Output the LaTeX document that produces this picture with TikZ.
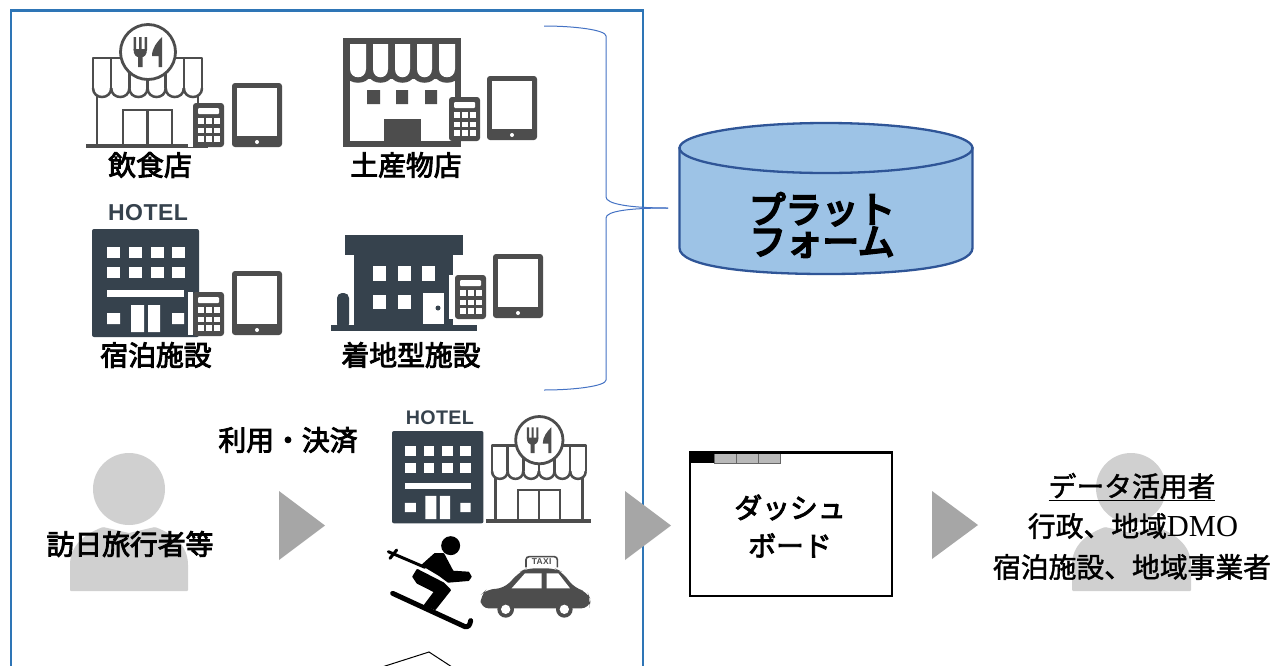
\documentclass[tikz,border=0pt]{standalone}
\usepackage{fontspec}
\setmainfont{Noto Sans CJK JP}
\newfontfamily\hotelfont{Liberation Sans}
\newfontfamily\serifl{Liberation Serif}
\newfontfamily\medfont[FakeBold=3.2]{Noto Sans CJK JP}
\newfontfamily\lightfont[FakeBold=1.6]{Noto Sans CJK JP}
\newfontfamily\heavyfont[FakeBold=6]{Noto Sans CJK JP}
\definecolor{icongray}{HTML}{4D4D4D}
\definecolor{slate}{HTML}{36424D}
\definecolor{frameblue}{HTML}{2E75B6}
\definecolor{bracecol}{HTML}{4472C4}
\definecolor{cylfill}{HTML}{9DC3E6}
\definecolor{cylline}{HTML}{2F5597}
\definecolor{persongray}{HTML}{D0D0D0}
\definecolor{triangray}{HTML}{A6A6A6}
\tikzset{
 lbl/.style={inner sep=0pt,font=\medfont\fontsize{27.8}{33}\selectfont,text=black,align=center},
 lblthin/.style={inner sep=0pt,font=\lightfont\fontsize{27.8}{33}\selectfont,text=black,align=center},
 bigl/.style={inner sep=0pt,font=\heavyfont\fontsize{36.5}{32}\selectfont,text=black,align=center},
 tri/.style={fill=triangray,draw=none},
 person/.style={fill=persongray,draw=none},
 hotlbl/.style={inner sep=0pt,transform shape,font=\hotelfont\fontsize{23}{23}\selectfont\bfseries\addfontfeatures{LetterSpace=2},text=slate}
}
\newcommand{\calcicon}[2]{\begin{scope}[shift={(#1,#2)}]
 \fill[icongray,rounded corners=3pt] (0,0) rectangle (31,44);
 \fill[white,rounded corners=1pt] (5,5) rectangle (26,11);
 \foreach \a in {15,24.5,33} \foreach \b in {5,13,21} \fill[white] (\b,\a) rectangle (\b+5.5,\a+5.5);
\end{scope}}
\newcommand{\tableticon}[2]{\begin{scope}[shift={(#1,#2)}]
 \fill[icongray,rounded corners=3pt] (0,0) rectangle (50,64);
 \fill[white] (5,5) rectangle (45,53);
 \fill[white] (25,59) circle[radius=2pt];
\end{scope}}
\newcommand{\restaurant}[3]{\begin{scope}[shift={(#1,#2)},scale=#3,draw=icongray,line width=2.5pt]
 \fill[icongray] (0,-2) rectangle (122,2);
 \draw (11,-50) -- (11,0) (112,-50) -- (112,0);
 \draw (37,0) -- (37,-36) -- (86,-36) -- (86,0) (61.5,-36) -- (61.5,0);
 \draw[line join=round] (7,-58) -- (7,-88) -- (116,-88) -- (116,-58);
 \foreach \k in {0,1,2,3,4,5} {
  \draw (7+18.17*\k,-58) .. controls (7+18.17*\k,-46) and (25.17+18.17*\k,-46) .. (25.17+18.17*\k,-58);
  \draw (7+18.17*\k,-58) -- (7+18.17*\k,-88);
 }
 \fill[white] (62,-94) circle[radius=27.5pt];
 \draw[line width=2.8pt] (62,-94) circle[radius=27.5pt];
 \fill[icongray] (47.5,-109) rectangle (50,-96) (53,-109) rectangle (55.5,-96) (58.5,-109) rectangle (61,-96);
 \fill[icongray] (47.5,-97) -- (61,-97) .. controls (61,-91) and (58,-89) .. (56.5,-89) -- (56.5,-79) -- (52,-79) -- (52,-89) .. controls (50.5,-89) and (47.5,-91) .. (47.5,-97) -- cycle;
 \fill[icongray] (76,-109) -- (76,-79) -- (72.5,-79) -- (72.5,-90) -- (66,-90) .. controls (66,-98) and (71,-104) .. (76,-109) -- cycle;
\end{scope}}
\newcommand{\hotelicon}[3]{\begin{scope}[shift={(#1,#2)},scale=#3]
 \fill[slate,rounded corners=2pt] (0,0) -- (0,108) -- (107,108) -- (107,0) -- cycle;
 \foreach \b in {15,37,59,80} \foreach \a in {18,38} \fill[white] (\b,\a) rectangle (\b+12.5,\a+11);
 \fill[white] (15,61) rectangle (92,68);
 \fill[white] (15,84) rectangle (28,95) (80,84) rectangle (92,95);
 \fill[white] (39,76) rectangle (52,103) (56,76) rectangle (68,103);
 \node[hotlbl] (#1hotel) at (56,-16) {HOTEL};
\end{scope}}
\begin{document}
\begin{tikzpicture}[x=1pt,y=-1pt]
\useasboundingbox (0,0) rectangle (1274,665);
\clip (0,0) rectangle (1274,665);
\fill[white] (0,0) rectangle (1274,665);
% persons (behind texts)
\fill[person] (129,489) circle[radius=36pt];
\fill[person,rounded corners=1pt] (70,591) -- (70,566) .. controls (70,545) and (85,534) .. (103,527) -- (129,533) -- (155,527) .. controls (173,534) and (188,545) .. (188,566) -- (188,591) -- cycle;
\fill[person] (1131,488) circle[radius=35pt];
\fill[person,rounded corners=1pt] (1072,591) -- (1072,566) .. controls (1072,545) and (1087,534) .. (1105,527) -- (1131,533) -- (1157,527) .. controls (1175,534) and (1191,545) .. (1191,566) -- (1191,591) -- cycle;
% frame
\draw[frameblue,line width=2.2pt] (11,668) -- (11,10.5) -- (643,10.5) -- (643,668);
% icons row 1
\restaurant{86}{146}{1}
\fill[white] (188,103) rectangle (193,147);
\calcicon{193}{103}
\tableticon{232}{83}
% shop
\begin{scope}[shift={(343,38)}]
 \fill[icongray] (0,0) rectangle (118,109);
 \fill[white] (7,41) rectangle (112,103);
 \foreach \p/\q in {7/23,30/45,52/67,74/89,96/112} {
  \fill[icongray] (\p-4,30) -- (\q+4,30) -- (\q+4,38) .. controls (\q+1,47) and (\p-1,47) .. (\p-4,38) -- cycle;
  \fill[white] (\p,6) -- (\q,6) -- (\q,31) .. controls (\q,42) and (\p,42) .. (\p,31) -- cycle;
 }
 \fill[icongray] (24,52) rectangle (37,66) (53,52) rectangle (65,66) (82,52) rectangle (94,66);
 \fill[icongray] (41,81) rectangle (78,109);
\end{scope}
\calcicon{449}{97}
\tableticon{487}{76}
% hotel
\hotelicon{92}{229}{1}
\fill[white] (188,292) rectangle (193,335);
\calcicon{193}{292}
\tableticon{232}{271}
% house
\fill[slate] (345,235) rectangle (463,255);
\fill[slate] (354,255) rectangle (453,326);
\fill[slate] (331,325) rectangle (477,331);
\fill[slate,rounded corners=5pt] (337,329) -- (337,293) -- (349,293) -- (349,329) -- cycle;
\foreach \b in {373,398,422} \fill[white] (\b,266) rectangle (\b+13,281);
\foreach \b in {373,398} \fill[white] (\b,295) rectangle (\b+13,309);
\fill[white] (423,293) rectangle (444,324);
\fill[slate] (438,308) circle[radius=2.5pt];
\fill[white] (449,275) rectangle (455,319);
\calcicon{455}{275}
\tableticon{493}{254}
% lower icons
\hotelicon{392}{431}{.855}
\restaurant{486}{521}{.86}
% skier
\begin{scope}[shift={(380,530)},scale=.3333]
 \fill[black] (212,47) circle[radius=28.5pt];
 \draw[black,line width=3pt,line cap=round] (25,65) -- (135,112) (30,85) -- (50,60);
 \draw[black,line width=5pt,line cap=round,line join=round] (38,190) -- (255,290) .. controls (265,292) and (270,285) .. (272,272);
 \fill[black,draw=black,line width=2pt,line join=round] (128,105) -- (165,72) -- (190,72) -- (218,125) -- (265,128) -- (272,140) -- (265,150) -- (205,155) -- (178,135) -- cycle;
 \fill[black,draw=black,line width=2pt,line join=round] (100,140) -- (112,120) -- (190,160) -- (210,180) -- (165,237) -- (135,225) -- (165,185) -- (112,158) -- cycle;
\end{scope}
% taxi
\begin{scope}[shift={(480,540)},scale=.3333]
 \fill[icongray,rounded corners=8pt] (2,205) -- (2,165) -- (20,148) -- (72,145) -- (120,95) -- (140,85) -- (225,85) -- (245,95) -- (285,145) -- (322,155) -- (332,180) -- (328,205) -- cycle;
 \fill[white] (95,145) -- (135,100) -- (185,100) -- (185,145) -- cycle;
 \fill[white] (200,100) -- (235,100) -- (270,145) -- (200,145) -- cycle;
 \fill[icongray] (77,208) circle[radius=25pt] (253,208) circle[radius=25pt];
 \fill[white] (77,208) circle[radius=14pt] (253,208) circle[radius=14pt];
 \draw[icongray,line width=1.6pt,rounded corners=3pt] (138,82) -- (138,50) -- (232,50) -- (232,82);
 \node[inner sep=0pt,text=icongray,font=\hotelfont\fontsize{8.5}{9}\selectfont\bfseries\addfontfeatures{LetterSpace=4}] (taxisign) at (185,66) {TAXI};
\end{scope}
% partial shape at the bottom
\draw[black,line width=1pt] (382,667) -- (429,652) -- (452,667);
% brace
\coordinate (bracetip) at (668,208);
\draw[bracecol,line width=1pt] (544,26) .. controls (575,26) and (606,30) .. (606,36) -- (606,197) .. controls (606,204) and (630,208) .. (bracetip);
\draw[bracecol,line width=1pt] (bracetip) .. controls (630,208) and (606,211) .. (606,218) -- (606,380) .. controls (606,386) and (575,390) .. (544,390);
% cylinder
\draw[cylline,fill=cylfill,line width=2.3pt] (679.5,148) -- (679.5,248) .. controls (679.5,266) and (745,274) .. (826,274) .. controls (907,274) and (972.5,266) .. (972.5,248) -- (972.5,148) -- cycle;
\draw[cylline,fill=cylfill,line width=2.3pt] (826,148) ellipse[x radius=146.5pt,y radius=25pt];
% triangles
\fill[tri] (279,491) -- (325,525.5) -- (279,560) -- cycle;
\fill[tri] (625,491) -- (671,525.5) -- (625,560) -- cycle;
\fill[tri] (932,491) -- (978,525) -- (932,559) -- cycle;
% dashboard
\draw[black,line width=2.4pt] (690,452.5) rectangle (892,596);
\fill[black] (690,452) rectangle (714,463);
\draw[fill=gray!55,draw=gray!80!black,line width=.8pt] (714,452.5) rectangle (736,463) (736,452.5) rectangle (758,463) (758,452.5) rectangle (780,463);
\draw[black,line width=2.4pt] (690,452.5) -- (892,452.5);
% labels
\node[lbl] (t1) at (150,165) {飲食店};
\node[lbl] (t2) at (406,165) {土産物店};
\node[lbl] (t3) at (156,355) {宿泊施設};
\node[lbl] (t4) at (411,355) {着地型施設};
\node[lbl] (t5) at (288,440) {利用・決済};
\node[lbl] (t6) at (130,544) {訪日旅行者等};
\node[lbl] (dash) at (790,526) {ダッシュ\\[5pt]ボード};
\node[bigl] (plat) at (822,225) {プラット\\フォーム};
\node[lblthin] (u1) at (1132,487) {\underline{データ活用者}};
\node[lblthin] (u2) at (1133,526) {行政、地域{\serifl\fontsize{30.5}{33}\selectfont DMO}};
\node[lblthin] (u3) at (1132,567) {宿泊施設、地域事業者};
\end{tikzpicture}
\end{document}
